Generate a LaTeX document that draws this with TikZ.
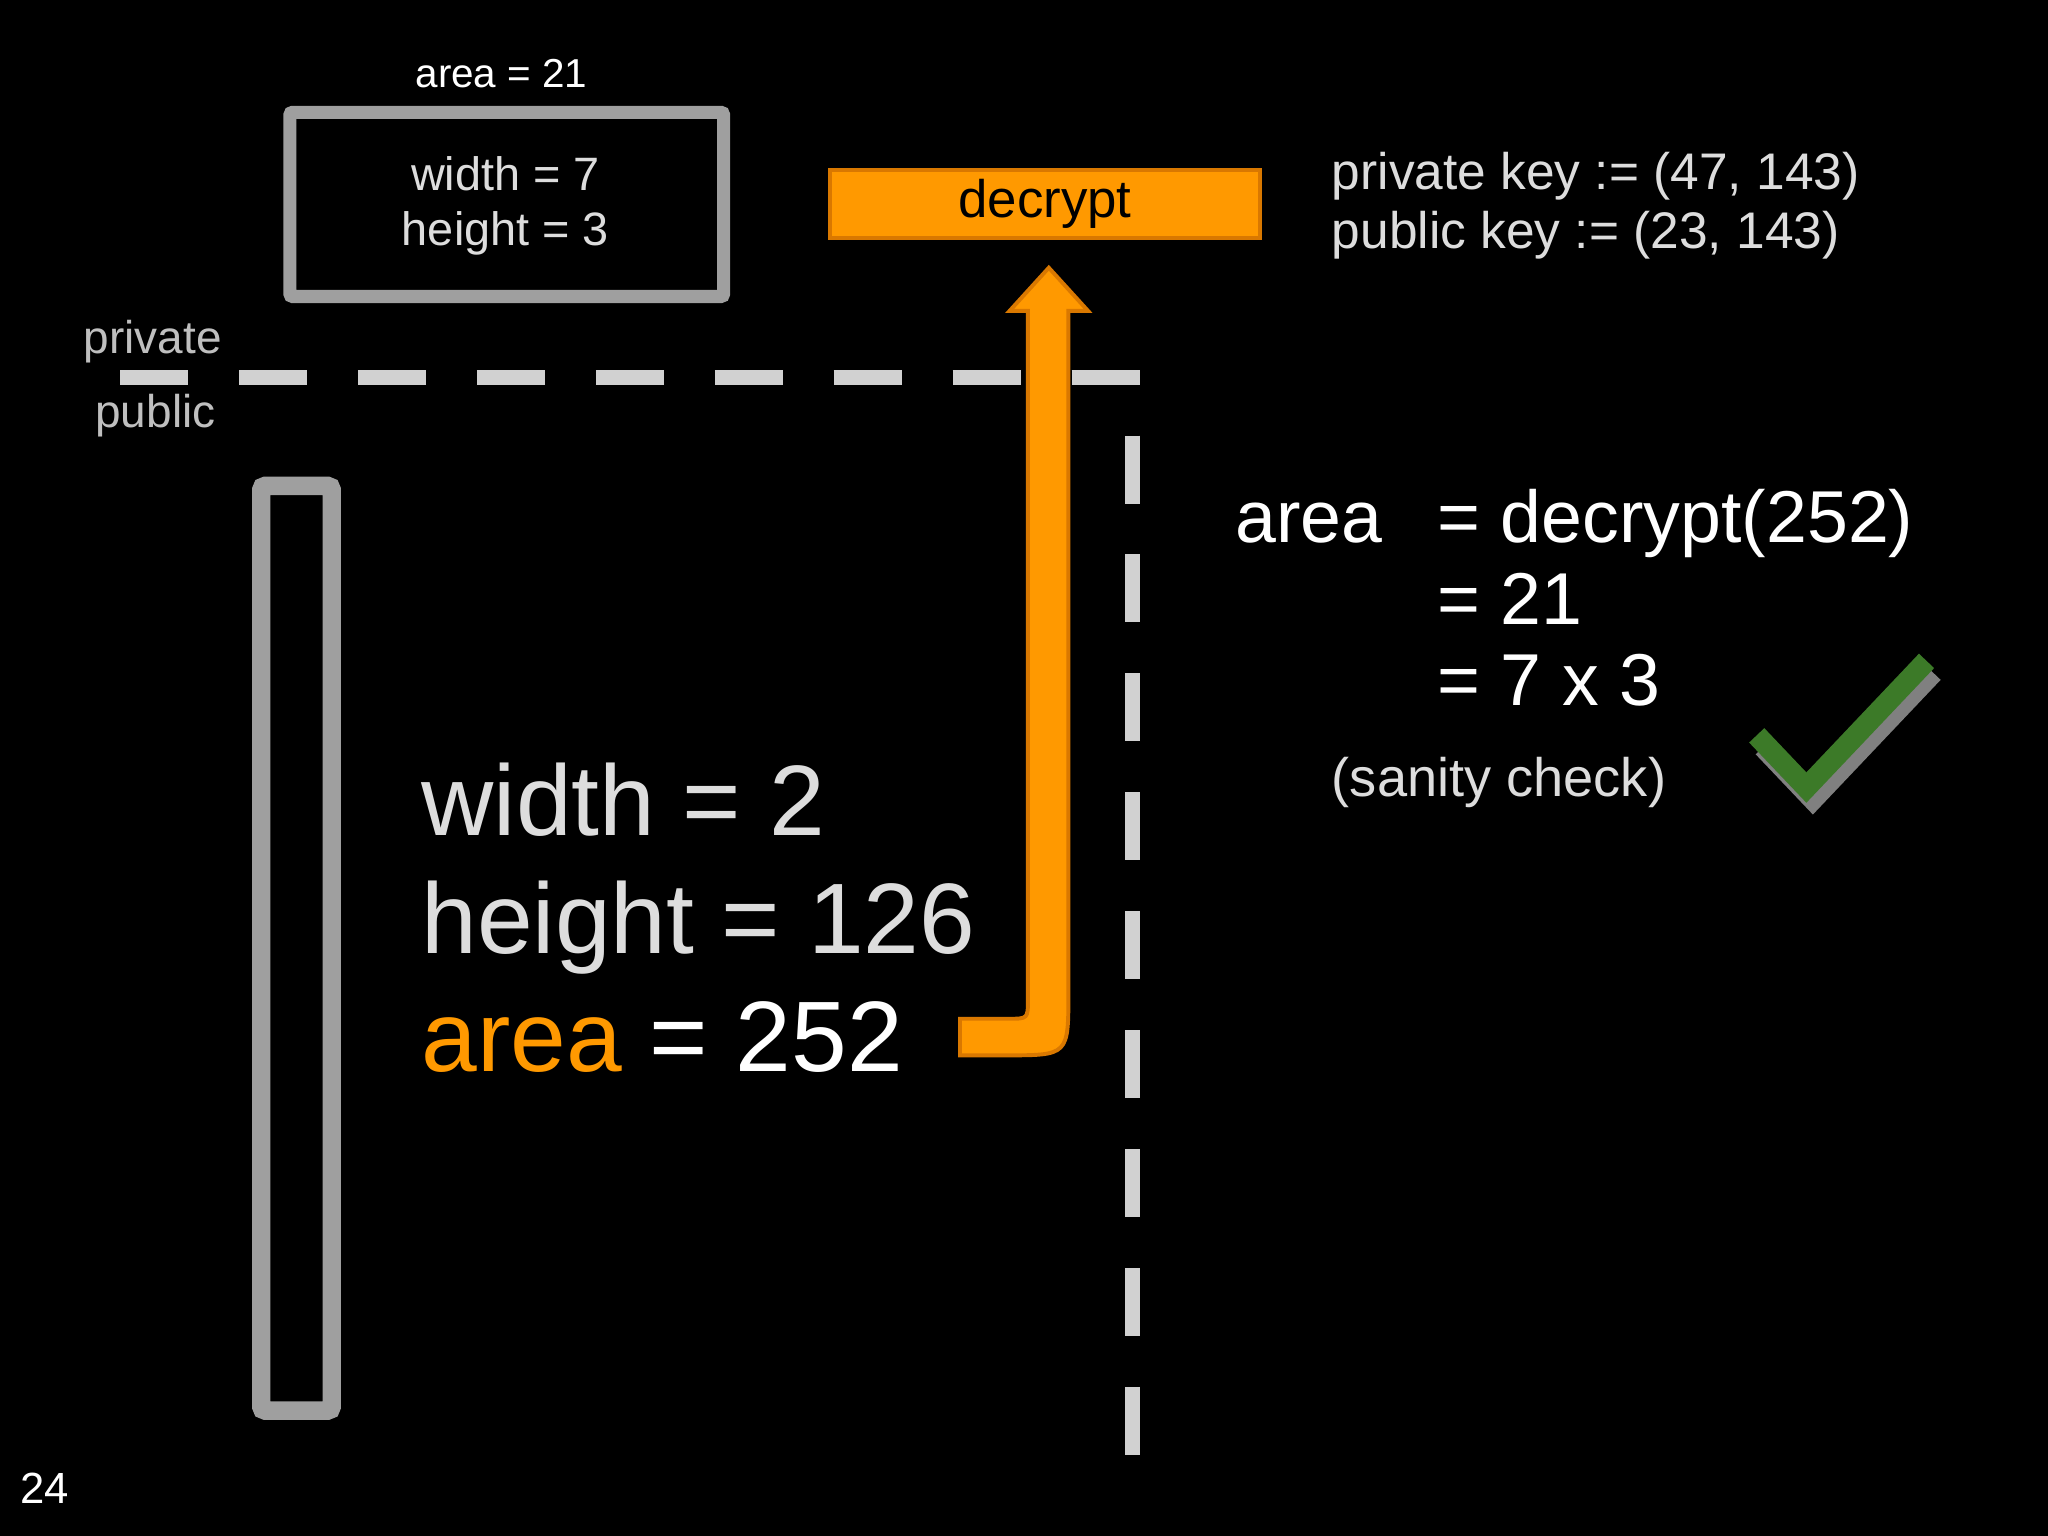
\documentclass[tikz,border=0pt]{standalone}
\usepackage{fontspec}
\setmainfont{Liberation Sans}
\begin{document}
\begin{tikzpicture}[x=0.01cm,y=-0.01cm,
  txt/.style={anchor=base west,inner sep=0pt},
  ctxt/.style={anchor=base,inner sep=0pt},
  gbox/.style={draw=gray!75,line width=0.1cm},
  divline/.style={draw=white!82!black,line width=0.12cm,dash pattern=on 0.52cm off 0.39cm}]
\definecolor{org}{HTML}{FF9900}
\definecolor{dorg}{HTML}{D97800}
\definecolor{lg}{HTML}{DDDDDD}
\definecolor{chk}{HTML}{3C7A28}
\fill[black] (0,0) rectangle (1568,1176);
\useasboundingbox (0,0) rectangle (1568,1176);
% top box
\draw[gbox,rounded corners=0.02cm] (222,86) rectangle (554,227);
\node[ctxt,white,font=\fontsize{8.8}{10}\selectfont] (a21) at (384,67) {area = 21};
\node[ctxt,lg,font=\fontsize{10.2}{12}\selectfont] (w7) at (387,146) {width = 7};
\node[ctxt,lg,font=\fontsize{10.2}{12}\selectfont] (h3) at (387,188) {height = 3};
% decrypt
\node[draw=dorg,fill=org,line width=0.03cm,minimum width=3.29cm,minimum height=0.52cm,inner sep=0pt,font=\fontsize{11.5}{12}\selectfont] (dec) at (800,156) {decrypt};
\node[txt,lg,font=\fontsize{11.2}{13}\selectfont] (pk) at (1019,145) {private key := (47, 143)};
\node[txt,lg,font=\fontsize{11.2}{13}\selectfont] (pub) at (1019,190) {public key := (23, 143)};
% divider
\draw[divline] (92,289) -- (867,289) -- (867,1125);
\node[ctxt,white!75!black,font=\fontsize{10}{12}\selectfont] (priv) at (117,271) {private};
\node[ctxt,white!75!black,font=\fontsize{10}{12}\selectfont] (publ) at (119,327) {public};
% tall box
\draw[draw=gray!75,line width=0.14cm,rounded corners=0.03cm] (200,372) rectangle (254,1080);
% big text
\node[txt,lg,font=\fontsize{21.8}{24}\selectfont] (w2) at (322,640) {width = 2};
\node[txt,lg,font=\fontsize{21.8}{24}\selectfont] (h126) at (322,730) {height = 126};
\node[txt,white,font=\fontsize{21.8}{24}\selectfont] (ar) at (322,820) {\textcolor{org}{area} = 252};
% arrow
\filldraw[fill=org,draw=dorg,line width=0.03cm] (735,780) -- (772,780) .. controls (787,780) .. (787,765) -- (787,238) -- (773,238) -- (803,205) -- (833,238) -- (818,238) -- (818,760) .. controls (818,808) .. (770,808) -- (735,808) -- cycle;
% right text
\node[txt,white,font=\fontsize{16}{20}\selectfont] (ra) at (945,415) {area};
\node[txt,white,font=\fontsize{16}{20}\selectfont] (r1) at (1100,415) {= decrypt(252)};
\node[txt,white,font=\fontsize{16}{20}\selectfont] (r2) at (1100,478) {= 21};
\node[txt,white,font=\fontsize{16}{20}\selectfont] (r3) at (1100,540) {= 7 x 3};
\node[txt,lg,font=\fontsize{11.8}{13}\selectfont] (san) at (1019,610) {(sanity check)};
% check
\draw[gray,line width=0.16cm,line join=miter] (1350,572) -- (1388,612) -- (1480,515);
\draw[chk,line width=0.16cm,line join=miter] (1345,563) -- (1383,603) -- (1475,506);
\node[txt,white,font=\fontsize{9.5}{11}\selectfont] (pg) at (15,1151) {24};
\end{tikzpicture}
\end{document}
